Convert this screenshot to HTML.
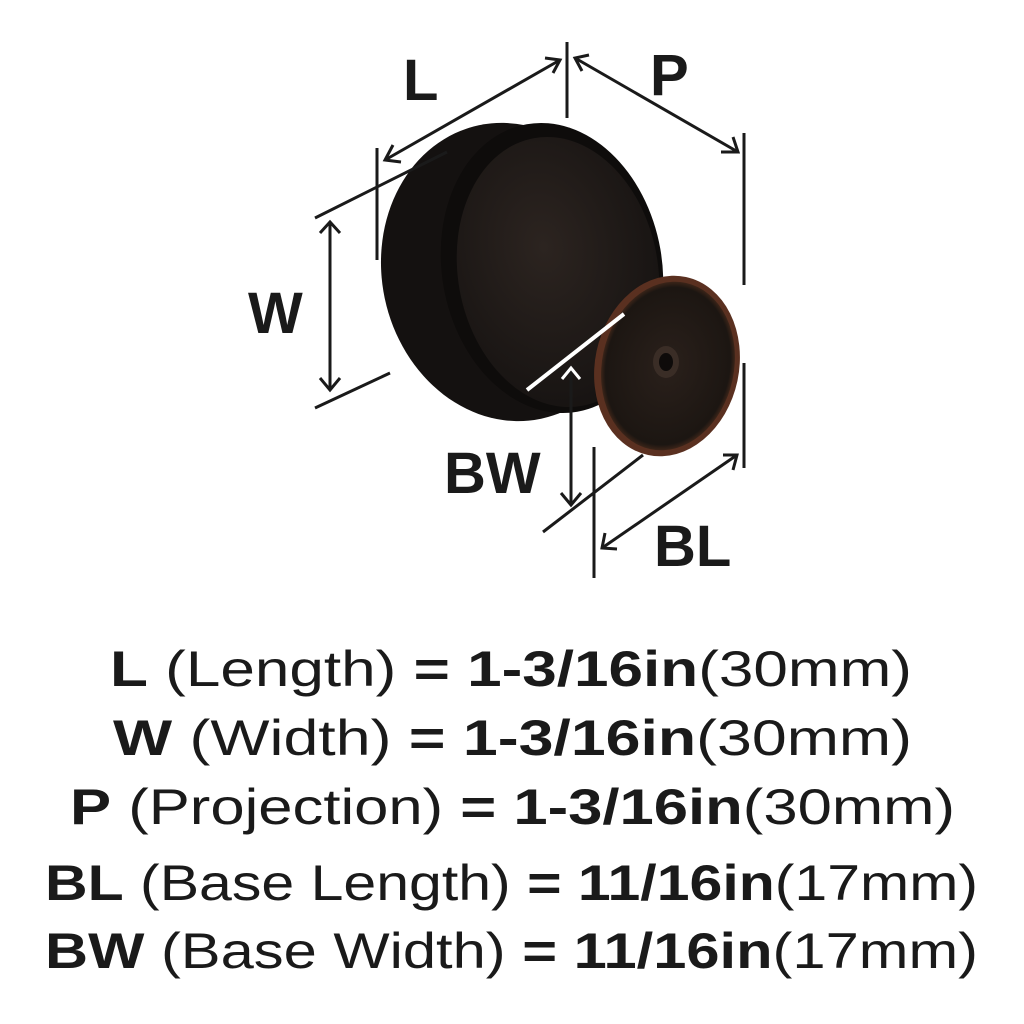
<!DOCTYPE html>
<html><head><meta charset="utf-8"><style>
html,body{margin:0;padding:0;background:#fff;width:1024px;height:1024px;overflow:hidden}
svg{display:block}
</style></head><body>
<svg width="1024" height="1024" viewBox="0 0 1024 1024" xmlns="http://www.w3.org/2000/svg">
<defs>
<radialGradient id="face" cx="0.45" cy="0.4" r="0.7">
<stop offset="0" stop-color="#2c2420"/><stop offset="1" stop-color="#141110"/>
</radialGradient>
<radialGradient id="base" cx="0.5" cy="0.5" r="0.55">
<stop offset="0" stop-color="#2a201b"/><stop offset="0.85" stop-color="#1c1612"/><stop offset="1" stop-color="#6b3a22"/>
</radialGradient>
</defs>
<!-- knob body -->
<ellipse cx="510" cy="272" rx="128" ry="150" transform="rotate(-12 510 272)" fill="#141110"/>
<ellipse cx="552" cy="268" rx="110" ry="146" transform="rotate(-10 552 268)" fill="#0e0c0b"/>
<ellipse cx="558" cy="272" rx="100" ry="136" transform="rotate(-10 558 272)" fill="url(#face)"/>
<!-- stem -->
<path d="M600 330 Q630 300 660 295 L690 440 Q640 420 595 395 Z" fill="#151110"/>
<!-- base -->
<ellipse cx="667" cy="366" rx="72" ry="91" transform="rotate(12 667 366)" fill="#5a3020"/>
<ellipse cx="668" cy="366" rx="66" ry="85" transform="rotate(12 668 366)" fill="url(#base)"/>
<ellipse cx="666" cy="362" rx="13" ry="16" fill="#3a2d26"/>
<ellipse cx="666" cy="362" rx="7" ry="9" fill="#0e0b0a"/>
<g stroke="#1a1a1a" stroke-width="3" fill="none">
<line x1="567" y1="42" x2="567" y2="118"/>
<line x1="385" y1="160" x2="560" y2="60"/>
<line x1="575" y1="58" x2="738" y2="152"/>
<line x1="744" y1="133" x2="744" y2="285"/>
<line x1="744" y1="363" x2="744" y2="468"/>
<line x1="377" y1="148" x2="377" y2="260"/>
<line x1="447" y1="152" x2="315" y2="218"/>
<line x1="330" y1="222" x2="330" y2="390"/>
<line x1="390" y1="373" x2="315" y2="408"/>
<line x1="571" y1="370" x2="571" y2="505"/>
<line x1="543" y1="532" x2="643" y2="455"/>
<line x1="594" y1="447" x2="594" y2="578"/>
<line x1="602" y1="548" x2="737" y2="455"/>
<polyline points="545,58 560,60 553,73"/>
<polyline points="393,145 385,160 401,162"/>
<polyline points="589,55 575,58 582,71"/>
<polyline points="721,152 738,152 733,137"/>
<polyline points="320,233 330,222 340,233"/>
<polyline points="320,378 330,390 340,378"/>
<polyline points="561,493 571,505 581,493"/>
<polyline points="723,455 737,455 733,470"/>
<polyline points="605,533 602,548 617,549"/>
</g>
<line x1="527" y1="390" x2="624" y2="314" stroke="#fff" stroke-width="4"/>
<polyline points="562,379 571,368 580,379" stroke="#fff" stroke-width="3" fill="none"/>
<g font-family="Liberation Sans, sans-serif" font-weight="bold" fill="#1a1a1a" font-size="58">
<text x="403" y="100">L</text>
<text x="650" y="95">P</text>
<text x="248" y="333">W</text>
<text x="444" y="493">BW</text>
<text x="654" y="566">BL</text>
</g>
<g font-family="Liberation Sans, sans-serif" fill="#1a1a1a" font-size="50">
<text x="110" y="686" textLength="802" lengthAdjust="spacingAndGlyphs"><tspan font-weight="bold">L</tspan> (Length) <tspan font-weight="bold">= 1-3/16in</tspan>(30mm)</text>
<text x="113" y="755" textLength="799" lengthAdjust="spacingAndGlyphs"><tspan font-weight="bold">W</tspan> (Width) <tspan font-weight="bold">= 1-3/16in</tspan>(30mm)</text>
<text x="70" y="824" textLength="885" lengthAdjust="spacingAndGlyphs"><tspan font-weight="bold">P</tspan> (Projection) <tspan font-weight="bold">= 1-3/16in</tspan>(30mm)</text>
<text x="45" y="900" textLength="933" lengthAdjust="spacingAndGlyphs"><tspan font-weight="bold">BL</tspan> (Base Length) <tspan font-weight="bold">= 11/16in</tspan>(17mm)</text>
<text x="45" y="968" textLength="933" lengthAdjust="spacingAndGlyphs"><tspan font-weight="bold">BW</tspan> (Base Width) <tspan font-weight="bold">= 11/16in</tspan>(17mm)</text>
</g>
</svg>
</body></html>
